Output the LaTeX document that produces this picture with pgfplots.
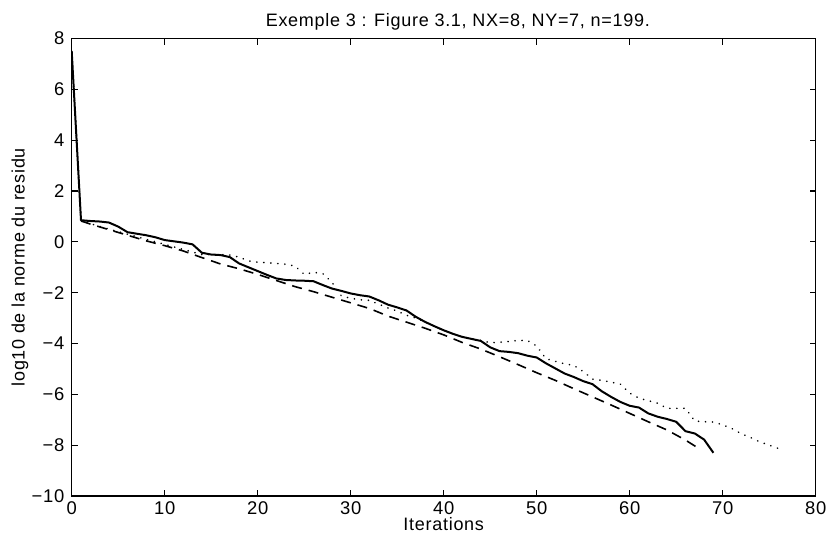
\documentclass[border=0pt]{standalone}
\usepackage{fontspec}
\setmainfont{Liberation Sans}[LetterSpace=4]
\usepackage{pgfplots}
\pgfplotsset{compat=1.18}
\usetikzlibrary{calc}
\begin{document}
\fontsize{9}{11}\selectfont
\begin{tikzpicture}
\begin{axis}[
  scale only axis,
  width=372pt, height=228.75pt,
  xmin=0, xmax=80, ymin=-10, ymax=8,
  xtick={0,10,...,80},
  ytick={-10,-8,...,8},
  yticklabels={−10,−8,−6,−4,−2,0,2,4,6,8},
  xtick pos=both, ytick pos=both,
  tick align=inside,
  major tick length=3pt,
  axis line style={line width=0.75pt},
  tick style={line width=0.6pt, black},
  /pgf/number format/assume math mode=true,
  tick label style={font=\fontsize{9.2}{11}\selectfont},
  xticklabel style={anchor=base, inner sep=0pt, yshift=-9.3pt},
  yticklabel style={anchor=east, xshift=-0.5pt},
  every axis title/.style={at={(axis description cs:0.519,1)}, anchor=base, yshift=5.9pt, font=\fontsize{9}{11}\selectfont},
  title={Exemple 3 : Figure 3.1, NX=8, NY=7, n=199.},
  every axis x label/.style={at={(axis description cs:0.5,0)}, anchor=base, inner sep=0pt, yshift=-17.4pt, font=\fontsize{9}{11}\selectfont},
  xlabel={Iterations},
  every axis y label/.style={at={(axis description cs:-0.0695,0.5)}, anchor=center, rotate=90, font=\fontsize{9}{11}\selectfont},
  ylabel={log10 de la norme du residu},
]
% solid
\addplot[black, line width=1pt, line join=round] coordinates {
(0,7.5) (1,0.85) (2,0.82) (3,0.8) (4,0.76) (5,0.6) (6,0.38) (7,0.32) (8,0.26) (9,0.18)
(10,0.07) (11,0.02) (12,-0.03) (13,-0.1) (14,-0.43) (15,-0.5) (16,-0.52) (17,-0.6) (18,-0.85) (19,-1.0)
(20,-1.15) (21,-1.3) (22,-1.44) (23,-1.5) (24,-1.52) (25,-1.53) (26,-1.55) (27,-1.7) (28,-1.84) (29,-1.93)
(30,-2.03) (31,-2.1) (32,-2.15) (33,-2.3) (34,-2.47) (35,-2.58) (36,-2.7) (37,-2.95) (38,-3.15) (39,-3.32)
(40,-3.48) (41,-3.62) (42,-3.74) (43,-3.82) (44,-3.9) (45,-4.15) (46,-4.3) (47,-4.33) (48,-4.38) (49,-4.48)
(50,-4.55) (51,-4.78) (52,-4.98) (53,-5.18) (54,-5.32) (55,-5.48) (56,-5.6) (57,-5.88) (58,-6.1) (59,-6.3)
(60,-6.45) (61,-6.52) (62,-6.75) (63,-6.88) (64,-6.97) (65,-7.08) (66,-7.45) (67,-7.54) (68,-7.78) (69,-8.3)
};
% dotted
\addplot[black, line width=0.9pt, dash pattern=on 0.01pt off 3.5pt, line cap=round] coordinates {
(0,7.5) (1,0.85) (2,0.72) (3,0.6) (4,0.5) (5,0.4) (6,0.3) (7,0.2) (8,0.1) (9,0.0)
(10,-0.1) (11,-0.2) (12,-0.3) (13,-0.4) (14,-0.5) (15,-0.5) (16,-0.5) (17,-0.52) (18,-0.6) (19,-0.75)
(20,-0.8) (21,-0.82) (22,-0.85) (23,-0.88) (24,-0.95) (25,-1.28) (26,-1.2) (27,-1.25) (28,-1.6) (29,-2.13)
(30,-2.22) (31,-2.28) (32,-2.3) (33,-2.45) (34,-2.6) (35,-2.72) (36,-2.89) (37,-3.0) (38,-3.15) (39,-3.32)
(40,-3.48) (41,-3.62) (42,-3.74) (43,-3.82) (44,-3.88) (45,-3.97) (46,-3.95) (47,-3.92) (48,-3.88) (49,-3.88)
(50,-4.1) (51,-4.6) (52,-4.7) (53,-4.8) (54,-4.86) (55,-5.1) (56,-5.4) (57,-5.45) (58,-5.52) (59,-5.6)
(60,-5.95) (61,-6.15) (62,-6.25) (63,-6.35) (64,-6.55) (65,-6.55) (66,-6.55) (67,-7.05) (68,-7.08) (69,-7.09)
(70,-7.2) (71,-7.35) (72,-7.55) (73,-7.7) (74,-7.87) (75,-8.0) (76,-8.13)
};
% dashed
\addplot[black, line width=0.8pt, dash pattern=on 5pt off 3.5pt] coordinates {
(1,0.82) (2,0.7) (4,0.48) (6,0.26) (8,0.04) (10,-0.15) (12,-0.36) (14,-0.62) (16,-0.87) (18,-1.06)
(20,-1.28) (22,-1.52) (24,-1.76) (26,-1.96) (28,-2.18) (30,-2.4) (32,-2.62) (34,-2.92) (36,-3.16) (38,-3.4)
(40,-3.66) (42,-3.96) (44,-4.22) (46,-4.52) (48,-4.83) (50,-5.15) (52,-5.45) (54,-5.78) (56,-6.1) (58,-6.42)
(60,-6.75) (62,-7.08) (64,-7.4) (66,-7.8) (67.3,-8.1)
};
\end{axis}
\pgfresetboundingbox
\path ($(current axis.south west)+(-35.85pt,-18pt)$) rectangle ($(current axis.north east)+(6.65pt,19.25pt)$);
\end{tikzpicture}
\end{document}
